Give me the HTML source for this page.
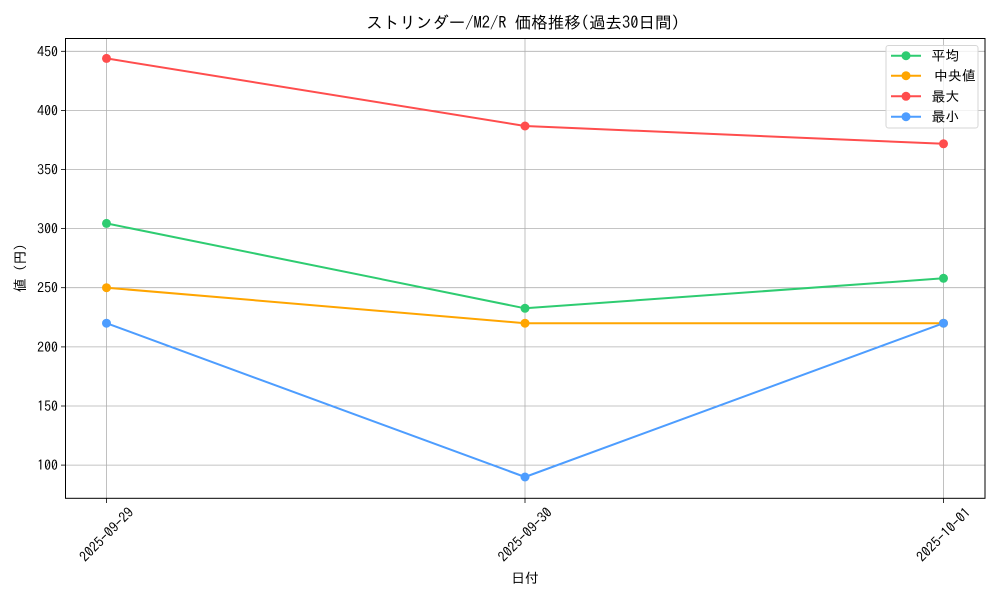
<!DOCTYPE html>
<html><head><meta charset="utf-8"><style>
html,body{margin:0;padding:0;background:#fff;}
svg{display:block;}
text{font-family:"IPAGothic","Liberation Sans","Noto Sans CJK JP",sans-serif;fill:#000;}
</style></head><body>
<svg width="1000" height="600" viewBox="0 0 1000 600" xmlns="http://www.w3.org/2000/svg">
<rect width="1000" height="600" fill="#fff"/>
<!-- grid -->
<g stroke="#b0b0b0" stroke-width="0.8">
<line x1="65.5" x2="985" y1="51.3" y2="51.3"/>
<line x1="65.5" x2="985" y1="110.4" y2="110.4"/>
<line x1="65.5" x2="985" y1="169.5" y2="169.5"/>
<line x1="65.5" x2="985" y1="228.6" y2="228.6"/>
<line x1="65.5" x2="985" y1="287.7" y2="287.7"/>
<line x1="65.5" x2="985" y1="346.9" y2="346.9"/>
<line x1="65.5" x2="985" y1="406.0" y2="406.0"/>
<line x1="65.5" x2="985" y1="465.1" y2="465.1"/>
<line x1="106.5" x2="106.5" y1="38.5" y2="498.3"/>
<line x1="525" x2="525" y1="38.5" y2="498.3"/>
<line x1="943.5" x2="943.5" y1="38.5" y2="498.3"/>
</g>
<!-- series -->
<g stroke-width="2" fill="none" stroke-linejoin="round">
<polyline stroke="#2ecc71" points="106.5,223.4 525,308.3 943.5,278.3"/>
<polyline stroke="#ffa500" points="106.5,287.7 525,323.2 943.5,323.2"/>
<polyline stroke="#ff4d4d" points="106.5,58.4 525,126 943.5,143.8"/>
<polyline stroke="#4d9dff" points="106.5,323.2 525,477.0 943.5,323.2"/>
</g>
<g fill="#2ecc71"><circle cx="106.5" cy="223.4" r="4.5"/><circle cx="525" cy="308.3" r="4.5"/><circle cx="943.5" cy="278.3" r="4.5"/></g>
<g fill="#ffa500"><circle cx="106.5" cy="287.7" r="4.5"/><circle cx="525" cy="323.2" r="4.5"/><circle cx="943.5" cy="323.2" r="4.5"/></g>
<g fill="#ff4d4d"><circle cx="106.5" cy="58.4" r="4.5"/><circle cx="525" cy="126" r="4.5"/><circle cx="943.5" cy="143.8" r="4.5"/></g>
<g fill="#4d9dff"><circle cx="106.5" cy="323.2" r="4.5"/><circle cx="525" cy="477.0" r="4.5"/><circle cx="943.5" cy="323.2" r="4.5"/></g>
<!-- axes frame -->
<rect x="65.5" y="38.5" width="919.5" height="459.8" fill="none" stroke="#000" stroke-width="1"/>
<!-- ticks -->
<g stroke="#000" stroke-width="0.8">
<line x1="61" x2="65.5" y1="51.3" y2="51.3"/>
<line x1="61" x2="65.5" y1="110.4" y2="110.4"/>
<line x1="61" x2="65.5" y1="169.5" y2="169.5"/>
<line x1="61" x2="65.5" y1="228.6" y2="228.6"/>
<line x1="61" x2="65.5" y1="287.7" y2="287.7"/>
<line x1="61" x2="65.5" y1="346.9" y2="346.9"/>
<line x1="61" x2="65.5" y1="406.0" y2="406.0"/>
<line x1="61" x2="65.5" y1="465.1" y2="465.1"/>
<line x1="106.5" x2="106.5" y1="498.3" y2="503"/>
<line x1="525" x2="525" y1="498.3" y2="503"/>
<line x1="943.5" x2="943.5" y1="498.3" y2="503"/>
</g>
<g font-size="13.9" text-anchor="end" dominant-baseline="central">
<text x="58" y="51.3">450</text>
<text x="58" y="110.4">400</text>
<text x="58" y="169.5">350</text>
<text x="58" y="228.6">300</text>
<text x="58" y="287.7">250</text>
<text x="58" y="346.9">200</text>
<text x="58" y="406.0">150</text>
<text x="58" y="465.1">100</text>
</g>
<g font-size="13.9" text-anchor="middle" dominant-baseline="central">
<text transform="translate(106.5,534.5) rotate(-45)">2025-09-29</text>
<text transform="translate(525,534.5) rotate(-45)">2025-09-30</text>
<text transform="translate(943.5,534.5) rotate(-45)">2025-10-01</text>
</g>
<text x="525" y="578" font-size="13.9" text-anchor="middle" dominant-baseline="central">日付</text>
<text transform="translate(20,268) rotate(-90)" font-size="13.9" text-anchor="middle" dominant-baseline="central">値 (円)</text>
<text x="523" y="22" font-size="16.5" text-anchor="middle" dominant-baseline="central">ストリンダー/M2/R 価格推移(過去30日間)</text>
<!-- legend -->
<rect x="886" y="45.5" width="92" height="82.5" rx="2.5" fill="#fff" fill-opacity="0.8" stroke="#d6d6d6" stroke-width="1"/>
<g stroke-width="2">
<line x1="891" x2="921" y1="55.7" y2="55.7" stroke="#2ecc71"/>
<line x1="891" x2="921" y1="75.7" y2="75.7" stroke="#ffa500"/>
<line x1="891" x2="921" y1="96.3" y2="96.3" stroke="#ff4d4d"/>
<line x1="891" x2="921" y1="116.7" y2="116.7" stroke="#4d9dff"/>
</g>
<circle cx="906" cy="55.7" r="4.5" fill="#2ecc71"/>
<circle cx="906" cy="75.7" r="4.5" fill="#ffa500"/>
<circle cx="906" cy="96.3" r="4.5" fill="#ff4d4d"/>
<circle cx="906" cy="116.7" r="4.5" fill="#4d9dff"/>
<g font-size="13.9" dominant-baseline="central">
<text x="931.5" y="55.7">平均</text>
<text x="934" y="75.7">中央値</text>
<text x="931.5" y="96.3">最大</text>
<text x="931.5" y="116.7">最小</text>
</g>
</svg>
</body></html>
